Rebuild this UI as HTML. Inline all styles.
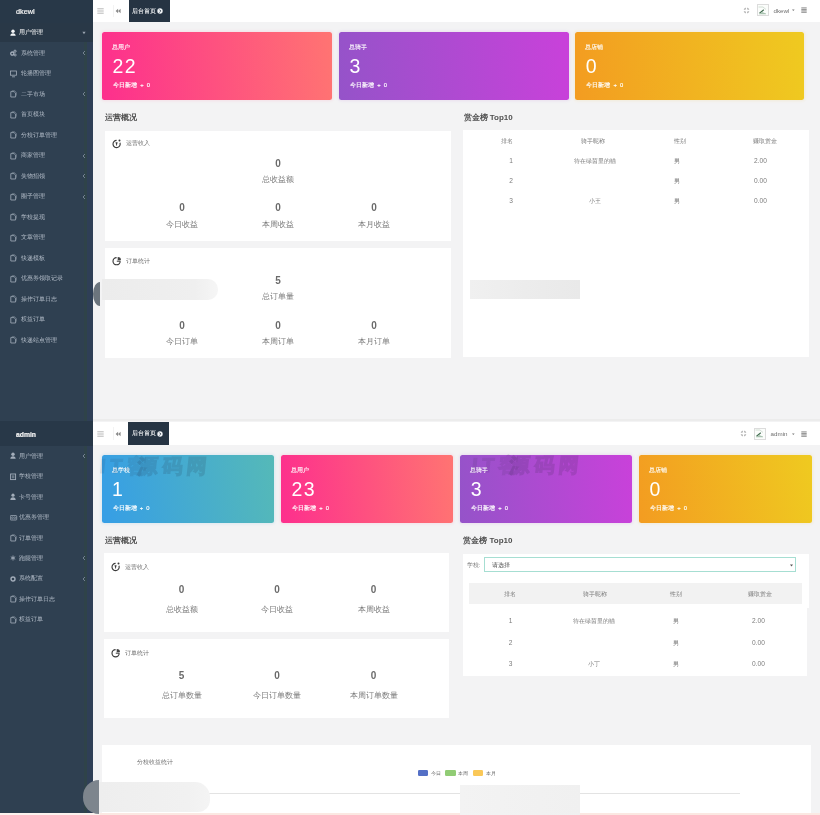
<!DOCTYPE html><html><head><meta charset="utf-8"><style>
html,body{margin:0;padding:0;width:820px;height:815px;overflow:hidden;background:#f3f3f4;font-family:"Liberation Sans",sans-serif;}
body{filter:blur(0.3px)}
.a{position:absolute;white-space:nowrap}
.sb{background:#2f4051}
.logo{background:#283848}
.act{background:#293847}
.logot{color:#f4f4f4;font-weight:bold;line-height:10px;-webkit-text-stroke:0.2px #f4f4f4}
.mt{color:#b3bcc8;font-size:6px;line-height:9px}
.mta{color:#fff}
.hd{background:#fff}
.tab{background:#263443}
.tabt{color:#eef0f2;font-size:6px;line-height:9px;-webkit-text-stroke:0.12px #eef0f2}
.ut{color:#6f6f6f;font-size:6.2px;line-height:9px}
.card{border-radius:2.5px}
.ct{color:#fff;font-size:5.8px;line-height:8px;-webkit-text-stroke:0.1px #fff}
.cn{color:#fff;font-size:19.5px;line-height:22px;font-weight:normal;letter-spacing:1.3px}
.cs{color:#fff;font-size:5.8px;line-height:8px;-webkit-text-stroke:0.15px #fff}
.pn{background:#fff}
.st{color:#505050;font-size:8px;font-weight:bold;line-height:10px}
.ph{color:#707070;font-size:5.8px;line-height:8px}
.sn{width:100px;text-align:center;color:#6b6b6b;font-size:10px;font-weight:bold;line-height:12px}
.sl{width:100px;text-align:center;color:#7a7a7a;font-size:7.8px;line-height:10px}
.tt{width:80px;text-align:center;color:#7c7c7c;font-size:6px;line-height:8px}
.wm{font-size:20px;line-height:26px;font-weight:bold;transform:skewX(-6deg);color:rgb(30,30,50);opacity:.13;letter-spacing:4.5px;-webkit-text-stroke:1.2px rgb(30,30,50)}
</style></head><body>
<div class="a sb" style="left:0;top:0px;width:93px;height:421px"></div>
<div class="a" style="left:84px;top:0px;width:3px;height:421px;background:#2f4349"></div>
<div class="a" style="left:87px;top:0px;width:6px;height:421px;background:#2f3f56"></div>
<div class="a logo" style="left:0;top:0px;width:93px;height:22.5px"></div>
<div class="a logot" style="left:16px;top:7.15px;font-size:7.3px;font-weight:normal">dkewl</div>
<div class="a act" style="left:0;top:23.3px;width:93px;height:18.8px"></div>
<svg class="a" style="left:9.8px;top:28.6px" width="8" height="8" viewBox="0 0 8 8"><circle cx="3" cy="2.2" r="1.7" fill="#f4f6f8"/><path d="M0.3 6.8 Q0.5 4.2 3 4.2 Q5.5 4.2 5.7 6.8 Z" fill="#f4f6f8"/></svg>
<div class="a mt mta" style="left:19.4px;top:28.1px">用户管理</div>
<svg class="a" style="left:82px;top:30.6px" width="4" height="4" viewBox="0 0 4 4"><path d="M0.4 0.8 H3.6 L2 3.2Z" fill="#9aa4b0"/></svg>
<svg class="a" style="left:9.8px;top:49.1px" width="8" height="8" viewBox="0 0 8 8"><circle cx="2.3" cy="4.6" r="1.6" fill="none" stroke="#a3adba" stroke-width="1.3"/><circle cx="5" cy="2.2" r="1.1" fill="none" stroke="#a3adba" stroke-width="1"/><circle cx="5.2" cy="6" r="1" fill="none" stroke="#a3adba" stroke-width="0.9"/></svg>
<div class="a mt" style="left:20.6px;top:48.6px">系统管理</div>
<svg class="a" style="left:82px;top:50.1px" width="4" height="6" viewBox="0 0 4 6"><path d="M3 1 L1 3 L3 5" fill="none" stroke="#8793a2" stroke-width="0.8"/></svg>
<svg class="a" style="left:9.8px;top:69.6px" width="8" height="8" viewBox="0 0 8 8"><rect x="0.5" y="1" width="6" height="4.2" fill="none" stroke="#a3adba" stroke-width="0.8"/><path d="M2 6.8 H5" stroke="#a3adba" stroke-width="0.8"/></svg>
<div class="a mt" style="left:20.6px;top:69.1px">轮播图管理</div>
<svg class="a" style="left:9.8px;top:90.1px" width="8" height="8" viewBox="0 0 8 8"><path d="M0.8 1.6 H4 L5.6 3.1 V7 H0.8 Z" fill="none" stroke="#a3adba" stroke-width="0.8"/><path d="M1.8 0.6 H4.4 L6.4 2.4 V5.6" fill="none" stroke="#a3adba" stroke-width="0.6" opacity="0.7"/></svg>
<div class="a mt" style="left:20.6px;top:89.6px">二手市场</div>
<svg class="a" style="left:82px;top:91.1px" width="4" height="6" viewBox="0 0 4 6"><path d="M3 1 L1 3 L3 5" fill="none" stroke="#8793a2" stroke-width="0.8"/></svg>
<svg class="a" style="left:9.8px;top:110.6px" width="8" height="8" viewBox="0 0 8 8"><path d="M0.8 1.6 H4 L5.6 3.1 V7 H0.8 Z" fill="none" stroke="#a3adba" stroke-width="0.8"/><path d="M1.8 0.6 H4.4 L6.4 2.4 V5.6" fill="none" stroke="#a3adba" stroke-width="0.6" opacity="0.7"/></svg>
<div class="a mt" style="left:20.6px;top:110.1px">首页模块</div>
<svg class="a" style="left:9.8px;top:131.1px" width="8" height="8" viewBox="0 0 8 8"><path d="M0.8 1.6 H4 L5.6 3.1 V7 H0.8 Z" fill="none" stroke="#a3adba" stroke-width="0.8"/><path d="M1.8 0.6 H4.4 L6.4 2.4 V5.6" fill="none" stroke="#a3adba" stroke-width="0.6" opacity="0.7"/></svg>
<div class="a mt" style="left:20.6px;top:130.6px">分校订单管理</div>
<svg class="a" style="left:9.8px;top:151.6px" width="8" height="8" viewBox="0 0 8 8"><path d="M0.8 1.6 H4 L5.6 3.1 V7 H0.8 Z" fill="none" stroke="#a3adba" stroke-width="0.8"/><path d="M1.8 0.6 H4.4 L6.4 2.4 V5.6" fill="none" stroke="#a3adba" stroke-width="0.6" opacity="0.7"/></svg>
<div class="a mt" style="left:20.6px;top:151.1px">商家管理</div>
<svg class="a" style="left:82px;top:152.6px" width="4" height="6" viewBox="0 0 4 6"><path d="M3 1 L1 3 L3 5" fill="none" stroke="#8793a2" stroke-width="0.8"/></svg>
<svg class="a" style="left:9.8px;top:172.1px" width="8" height="8" viewBox="0 0 8 8"><path d="M0.8 1.6 H4 L5.6 3.1 V7 H0.8 Z" fill="none" stroke="#a3adba" stroke-width="0.8"/><path d="M1.8 0.6 H4.4 L6.4 2.4 V5.6" fill="none" stroke="#a3adba" stroke-width="0.6" opacity="0.7"/></svg>
<div class="a mt" style="left:20.6px;top:171.6px">失物招领</div>
<svg class="a" style="left:82px;top:173.1px" width="4" height="6" viewBox="0 0 4 6"><path d="M3 1 L1 3 L3 5" fill="none" stroke="#8793a2" stroke-width="0.8"/></svg>
<svg class="a" style="left:9.8px;top:192.6px" width="8" height="8" viewBox="0 0 8 8"><path d="M0.8 1.6 H4 L5.6 3.1 V7 H0.8 Z" fill="none" stroke="#a3adba" stroke-width="0.8"/><path d="M1.8 0.6 H4.4 L6.4 2.4 V5.6" fill="none" stroke="#a3adba" stroke-width="0.6" opacity="0.7"/></svg>
<div class="a mt" style="left:20.6px;top:192.1px">圈子管理</div>
<svg class="a" style="left:82px;top:193.6px" width="4" height="6" viewBox="0 0 4 6"><path d="M3 1 L1 3 L3 5" fill="none" stroke="#8793a2" stroke-width="0.8"/></svg>
<svg class="a" style="left:9.8px;top:213.1px" width="8" height="8" viewBox="0 0 8 8"><path d="M0.8 1.6 H4 L5.6 3.1 V7 H0.8 Z" fill="none" stroke="#a3adba" stroke-width="0.8"/><path d="M1.8 0.6 H4.4 L6.4 2.4 V5.6" fill="none" stroke="#a3adba" stroke-width="0.6" opacity="0.7"/></svg>
<div class="a mt" style="left:20.6px;top:212.6px">学校提现</div>
<svg class="a" style="left:9.8px;top:233.6px" width="8" height="8" viewBox="0 0 8 8"><path d="M0.8 1.6 H4 L5.6 3.1 V7 H0.8 Z" fill="none" stroke="#a3adba" stroke-width="0.8"/><path d="M1.8 0.6 H4.4 L6.4 2.4 V5.6" fill="none" stroke="#a3adba" stroke-width="0.6" opacity="0.7"/></svg>
<div class="a mt" style="left:20.6px;top:233.1px">文章管理</div>
<svg class="a" style="left:9.8px;top:254.10000000000002px" width="8" height="8" viewBox="0 0 8 8"><path d="M0.8 1.6 H4 L5.6 3.1 V7 H0.8 Z" fill="none" stroke="#a3adba" stroke-width="0.8"/><path d="M1.8 0.6 H4.4 L6.4 2.4 V5.6" fill="none" stroke="#a3adba" stroke-width="0.6" opacity="0.7"/></svg>
<div class="a mt" style="left:20.6px;top:253.60000000000002px">快递模板</div>
<svg class="a" style="left:9.8px;top:274.6px" width="8" height="8" viewBox="0 0 8 8"><path d="M0.8 1.6 H4 L5.6 3.1 V7 H0.8 Z" fill="none" stroke="#a3adba" stroke-width="0.8"/><path d="M1.8 0.6 H4.4 L6.4 2.4 V5.6" fill="none" stroke="#a3adba" stroke-width="0.6" opacity="0.7"/></svg>
<div class="a mt" style="left:20.6px;top:274.1px">优惠券领取记录</div>
<svg class="a" style="left:9.8px;top:295.1px" width="8" height="8" viewBox="0 0 8 8"><path d="M0.8 1.6 H4 L5.6 3.1 V7 H0.8 Z" fill="none" stroke="#a3adba" stroke-width="0.8"/><path d="M1.8 0.6 H4.4 L6.4 2.4 V5.6" fill="none" stroke="#a3adba" stroke-width="0.6" opacity="0.7"/></svg>
<div class="a mt" style="left:20.6px;top:294.6px">操作订单日志</div>
<svg class="a" style="left:9.8px;top:315.6px" width="8" height="8" viewBox="0 0 8 8"><path d="M0.8 1.6 H4 L5.6 3.1 V7 H0.8 Z" fill="none" stroke="#a3adba" stroke-width="0.8"/><path d="M1.8 0.6 H4.4 L6.4 2.4 V5.6" fill="none" stroke="#a3adba" stroke-width="0.6" opacity="0.7"/></svg>
<div class="a mt" style="left:20.6px;top:315.1px">权益订单</div>
<svg class="a" style="left:9.8px;top:336.1px" width="8" height="8" viewBox="0 0 8 8"><path d="M0.8 1.6 H4 L5.6 3.1 V7 H0.8 Z" fill="none" stroke="#a3adba" stroke-width="0.8"/><path d="M1.8 0.6 H4.4 L6.4 2.4 V5.6" fill="none" stroke="#a3adba" stroke-width="0.6" opacity="0.7"/></svg>
<div class="a mt" style="left:20.6px;top:335.6px">快递站点管理</div>
<div class="a hd" style="left:93.2px;top:0px;width:726.8px;height:22.3px"></div>
<svg class="a" style="left:97px;top:8.15px" width="7" height="6" viewBox="0 0 7 6"><path d="M0.3 0.8 H6.7 M0.3 3 H6.7 M0.3 5.2 H6.7" stroke="#a0a0a0" stroke-width="0.75"/></svg>
<svg class="a" style="left:115.3px;top:8.350000000000001px" width="6" height="6" viewBox="0 0 6 6"><path d="M5.6 0.8 L3.1 3 L5.6 5.2 Z M3.1 0.8 L0.6 3 L3.1 5.2 Z" fill="#8a8a8a"/></svg>
<div class="a" style="left:112.8px;top:5px;width:0.6px;height:12.3px;background:#f3f3f3"></div>
<div class="a tab" style="left:129px;top:0px;width:40.5px;height:22.3px"></div>
<div class="a tabt" style="left:132.2px;top:6.8500000000000005px">后台首页</div>
<svg class="a" style="left:157.2px;top:8.350000000000001px" width="6" height="6" viewBox="0 0 6 6"><circle cx="3" cy="3" r="2.7" fill="#eef1f4"/><path d="M2.4 1.6 L3.8 3 L2.4 4.4" fill="none" stroke="#2a3947" stroke-width="0.9"/></svg>
<svg class="a" style="left:743.0px;top:6.75px" width="7" height="7" viewBox="0 0 7 7"><path d="M2.6 2.6 L2.6 0.6 L0.6 2.6Z M4.4 2.6 L4.4 0.6 L6.4 2.6Z M2.6 4.4 L2.6 6.4 L0.6 4.4Z M4.4 4.4 L4.4 6.4 L6.4 4.4Z" fill="#8a8a8a"/></svg>
<div class="a" style="left:757.2px;top:4.35px;width:11.8px;height:11.8px;border:0.7px solid #dcdcdc;box-sizing:border-box;background:#fbfdfb"></div>
<svg class="a" style="left:758.3px;top:5.65px" width="9" height="9" viewBox="0 0 9 9"><path d="M0.5 1 H5 L8 3.5" fill="none" stroke="#c9d6cc" stroke-width="0.8"/><path d="M1.5 7.2 L5.8 3.8" stroke="#3f6a4d" stroke-width="1.1"/><path d="M1 8 L4 6 L8 7.5 V8.3 H1Z" fill="#a9c3b0"/></svg>
<div class="a ut" style="left:773.5px;top:5.75px">dkewl</div>
<svg class="a" style="left:792.3px;top:9.05px" width="3" height="3" viewBox="0 0 3 3"><path d="M0 0.4 H2.6 L1.3 2Z" fill="#777"/></svg>
<svg class="a" style="left:801px;top:7.45px" width="6" height="6" viewBox="0 0 6 6"><path d="M0.3 0.9 H5.7 M0.3 2.4 H5.7 M0.3 3.9 H5.7 M0.3 5.3 H5.7" stroke="#8c8c8c" stroke-width="1"/></svg>
<div class="a card" style="left:102px;top:32px;width:230px;height:68px;background:linear-gradient(85deg,#fd2f8d,#ff7472);box-shadow:0 0 3px 1px rgba(255,80,140,0.12)"></div>
<div class="a ct" style="left:112px;top:43.2px">总用户</div>
<div class="a cn" style="left:112.5px;top:54.5px">22</div>
<div class="a cs" style="left:113px;top:81px">今日新增 <span style="margin:0 1.5px">+</span> 0</div>
<div class="a card" style="left:339px;top:32px;width:229.5px;height:68px;background:linear-gradient(85deg,#9553c9,#c941da);box-shadow:0 0 3px 1px rgba(170,80,210,0.12)"></div>
<div class="a ct" style="left:349px;top:43.2px">总骑手</div>
<div class="a cn" style="left:349.5px;top:54.5px">3</div>
<div class="a cs" style="left:350px;top:81px">今日新增 <span style="margin:0 1.5px">+</span> 0</div>
<div class="a card" style="left:575.3px;top:32px;width:229px;height:68px;background:linear-gradient(85deg,#f39c21,#efca20);box-shadow:0 0 3px 1px rgba(240,180,30,0.12)"></div>
<div class="a ct" style="left:585.3px;top:43.2px">总店铺</div>
<div class="a cn" style="left:585.8px;top:54.5px">0</div>
<div class="a cs" style="left:586.3px;top:81px">今日新增 <span style="margin:0 1.5px">+</span> 0</div>
<div class="a st" style="left:105px;top:112.5px">运营概况</div>
<div class="a pn" style="left:105px;top:130.5px;width:346.3px;height:110.7px"></div>
<svg class="a" style="left:111.5px;top:138.5px" width="10" height="10" viewBox="0 0 10 10"><path d="M7.98 3.77 A3.6 3.6 0 1 1 4.6 1.4" fill="none" stroke="#3a3a3a" stroke-width="1.15"/><circle cx="7.5" cy="1.6" r="1" fill="#3a3a3a"/><path d="M3.5 3.2 L5.6 3.2 L4.6 7.3 Z" fill="#3a3a3a"/></svg>
<div class="a ph" style="left:126px;top:139px">运营收入</div>
<div class="a sn" style="left:228px;top:158px">0</div>
<div class="a sl" style="left:228px;top:175px">总收益额</div>
<div class="a sn" style="left:132px;top:202px">0</div>
<div class="a sl" style="left:132px;top:219.5px">今日收益</div>
<div class="a sn" style="left:228px;top:202px">0</div>
<div class="a sl" style="left:228px;top:219.5px">本周收益</div>
<div class="a sn" style="left:324px;top:202px">0</div>
<div class="a sl" style="left:324px;top:219.5px">本月收益</div>
<div class="a pn" style="left:105px;top:247.7px;width:346.3px;height:110.6px"></div>
<svg class="a" style="left:111.5px;top:256px" width="10" height="10" viewBox="0 0 10 10"><path d="M4.6 1.6 A3.6 3.6 0 1 0 8.2 5.2" fill="none" stroke="#3a3a3a" stroke-width="1.15"/><path d="M4.8 5.2 H8.2" stroke="#3a3a3a" stroke-width="1"/><path d="M5.7 0.9 V4.2 H9 A3.3 3.3 0 0 0 5.7 0.9Z" fill="#444"/></svg>
<div class="a ph" style="left:126px;top:257px">订单统计</div>
<div class="a sn" style="left:228px;top:275px">5</div>
<div class="a sl" style="left:228px;top:292px">总订单量</div>
<div class="a sn" style="left:132px;top:319.5px">0</div>
<div class="a sl" style="left:132px;top:336.5px">今日订单</div>
<div class="a sn" style="left:228px;top:319.5px">0</div>
<div class="a sl" style="left:228px;top:336.5px">本周订单</div>
<div class="a sn" style="left:324px;top:319.5px">0</div>
<div class="a sl" style="left:324px;top:336.5px">本月订单</div>
<div class="a st" style="left:463.5px;top:112.5px">赏金榜 Top10</div>
<div class="a pn" style="left:463.2px;top:130.4px;width:346.1px;height:226.2px"></div>
<div class="a tt" style="left:467px;top:137px">排名</div>
<div class="a tt" style="left:553px;top:137px">骑手昵称</div>
<div class="a tt" style="left:640px;top:137px">性别</div>
<div class="a tt" style="left:725px;top:137px">赚取赏金</div>
<div class="a tt" style="left:471px;top:157px;font-size:6.6px">1</div>
<div class="a tt" style="left:555px;top:157px">待在绿茵里的猫</div>
<div class="a tt" style="left:636.5px;top:157px">男</div>
<div class="a tt" style="left:720.5px;top:157px;font-size:6.6px">2.00</div>
<div class="a tt" style="left:471px;top:177px;font-size:6.6px">2</div>
<div class="a tt" style="left:555px;top:177px"></div>
<div class="a tt" style="left:636.5px;top:177px">男</div>
<div class="a tt" style="left:720.5px;top:177px;font-size:6.6px">0.00</div>
<div class="a tt" style="left:471px;top:197px;font-size:6.6px">3</div>
<div class="a tt" style="left:555px;top:197px">小王</div>
<div class="a tt" style="left:636.5px;top:197px">男</div>
<div class="a tt" style="left:720.5px;top:197px;font-size:6.6px">0.00</div>
<div class="a" style="left:101.7px;top:279.4px;width:116px;height:20.6px;border-radius:0 10px 10px 0;background:linear-gradient(90deg,#ececec,#efefef 80%,#f6f6f6)"></div>
<div class="a" style="left:93px;top:282px;width:7px;height:24px;border-radius:7px 0 0 7px / 12px 0 0 12px;background:#6b747d"></div>
<div class="a" style="left:469.6px;top:279.8px;width:110.5px;height:19.5px;background:linear-gradient(90deg,#f0f0f0,#ececec 50%,#e9e9e9)"></div>
<div class="a" style="left:93px;top:418.5px;width:727px;height:2.5px;background:#ececec"></div>
<div class="a sb" style="left:0;top:421px;width:93px;height:391.6px"></div>
<div class="a" style="left:84px;top:421px;width:3px;height:391.6px;background:#2f4349"></div>
<div class="a" style="left:87px;top:421px;width:6px;height:391.6px;background:#2f3f56"></div>
<div class="a logo" style="left:0;top:421px;width:93px;height:24.5px"></div>
<div class="a logot" style="left:16px;top:430.05px;font-size:6.8px;font-weight:bold">admin</div>
<svg class="a" style="left:9.8px;top:452.2px" width="8" height="8" viewBox="0 0 8 8"><circle cx="3" cy="2.2" r="1.7" fill="#a3adba"/><path d="M0.3 6.8 Q0.5 4.2 3 4.2 Q5.5 4.2 5.7 6.8 Z" fill="#a3adba"/></svg>
<div class="a mt" style="left:19.3px;top:451.7px">用户管理</div>
<svg class="a" style="left:82px;top:453.2px" width="4" height="6" viewBox="0 0 4 6"><path d="M3 1 L1 3 L3 5" fill="none" stroke="#8793a2" stroke-width="0.8"/></svg>
<svg class="a" style="left:9.8px;top:472.65px" width="8" height="8" viewBox="0 0 8 8"><rect x="0.6" y="1" width="5" height="5.6" fill="none" stroke="#a3adba" stroke-width="0.9"/><rect x="1.8" y="2.3" width="2.6" height="3" fill="#a3adba" opacity="0.5"/></svg>
<div class="a mt" style="left:19.3px;top:472.15px">学校管理</div>
<svg class="a" style="left:9.8px;top:493.09999999999997px" width="8" height="8" viewBox="0 0 8 8"><circle cx="3" cy="2.2" r="1.6" fill="#a3adba"/><path d="M0.3 7 Q0.5 4.2 3 4.2 Q5.5 4.2 5.7 7 Z" fill="#a3adba"/></svg>
<div class="a mt" style="left:19.3px;top:492.59999999999997px">卡号管理</div>
<svg class="a" style="left:9.8px;top:513.55px" width="8" height="8" viewBox="0 0 8 8"><rect x="0.3" y="1.6" width="6.4" height="4.4" rx="0.6" fill="none" stroke="#a3adba" stroke-width="0.8"/><circle cx="2.3" cy="3.8" r="0.9" fill="none" stroke="#a3adba" stroke-width="0.6"/><circle cx="4.7" cy="3.8" r="0.9" fill="none" stroke="#a3adba" stroke-width="0.6"/></svg>
<div class="a mt" style="left:19.3px;top:513.05px">优惠券管理</div>
<svg class="a" style="left:9.8px;top:534.0px" width="8" height="8" viewBox="0 0 8 8"><path d="M0.8 1.6 H4 L5.6 3.1 V7 H0.8 Z" fill="none" stroke="#a3adba" stroke-width="0.8"/><path d="M1.8 0.6 H4.4 L6.4 2.4 V5.6" fill="none" stroke="#a3adba" stroke-width="0.6" opacity="0.7"/></svg>
<div class="a mt" style="left:19.3px;top:533.5px">订单管理</div>
<svg class="a" style="left:9.8px;top:554.45px" width="8" height="8" viewBox="0 0 8 8"><path d="M3 1.5 V6.5 M0.8 2.8 L5.2 5.2 M0.8 5.2 L5.2 2.8" stroke="#a3adba" stroke-width="0.9"/></svg>
<div class="a mt" style="left:19.3px;top:553.95px">跑腿管理</div>
<svg class="a" style="left:82px;top:555.45px" width="4" height="6" viewBox="0 0 4 6"><path d="M3 1 L1 3 L3 5" fill="none" stroke="#8793a2" stroke-width="0.8"/></svg>
<svg class="a" style="left:9.8px;top:574.9px" width="8" height="8" viewBox="0 0 8 8"><circle cx="3" cy="4" r="2" fill="none" stroke="#a3adba" stroke-width="1.4"/></svg>
<div class="a mt" style="left:19.3px;top:574.4px">系统配置</div>
<svg class="a" style="left:82px;top:575.9px" width="4" height="6" viewBox="0 0 4 6"><path d="M3 1 L1 3 L3 5" fill="none" stroke="#8793a2" stroke-width="0.8"/></svg>
<svg class="a" style="left:9.8px;top:595.35px" width="8" height="8" viewBox="0 0 8 8"><path d="M0.8 1.6 H4 L5.6 3.1 V7 H0.8 Z" fill="none" stroke="#a3adba" stroke-width="0.8"/><path d="M1.8 0.6 H4.4 L6.4 2.4 V5.6" fill="none" stroke="#a3adba" stroke-width="0.6" opacity="0.7"/></svg>
<div class="a mt" style="left:19.3px;top:594.85px">操作订单日志</div>
<svg class="a" style="left:9.8px;top:615.8px" width="8" height="8" viewBox="0 0 8 8"><path d="M0.8 1.6 H4 L5.6 3.1 V7 H0.8 Z" fill="none" stroke="#a3adba" stroke-width="0.8"/><path d="M1.8 0.6 H4.4 L6.4 2.4 V5.6" fill="none" stroke="#a3adba" stroke-width="0.6" opacity="0.7"/></svg>
<div class="a mt" style="left:19.3px;top:615.3px">权益订单</div>
<div class="a hd" style="left:92.7px;top:421.9px;width:727.3px;height:23.6px"></div>
<svg class="a" style="left:97px;top:430.7px" width="7" height="6" viewBox="0 0 7 6"><path d="M0.3 0.8 H6.7 M0.3 3 H6.7 M0.3 5.2 H6.7" stroke="#a0a0a0" stroke-width="0.75"/></svg>
<svg class="a" style="left:115.3px;top:430.9px" width="6" height="6" viewBox="0 0 6 6"><path d="M5.6 0.8 L3.1 3 L5.6 5.2 Z M3.1 0.8 L0.6 3 L3.1 5.2 Z" fill="#8a8a8a"/></svg>
<div class="a" style="left:112.8px;top:426.9px;width:0.6px;height:13.600000000000001px;background:#f3f3f3"></div>
<div class="a tab" style="left:128.3px;top:421.9px;width:40.5px;height:23.6px"></div>
<div class="a tabt" style="left:131.5px;top:429.4px">后台首页</div>
<svg class="a" style="left:156.5px;top:430.9px" width="6" height="6" viewBox="0 0 6 6"><circle cx="3" cy="3" r="2.7" fill="#eef1f4"/><path d="M2.4 1.6 L3.8 3 L2.4 4.4" fill="none" stroke="#2a3947" stroke-width="0.9"/></svg>
<svg class="a" style="left:740.1px;top:430.2px" width="7" height="7" viewBox="0 0 7 7"><path d="M2.6 2.6 L2.6 0.6 L0.6 2.6Z M4.4 2.6 L4.4 0.6 L6.4 2.6Z M2.6 4.4 L2.6 6.4 L0.6 4.4Z M4.4 4.4 L4.4 6.4 L6.4 4.4Z" fill="#8a8a8a"/></svg>
<div class="a" style="left:754.3000000000001px;top:427.8px;width:11.8px;height:11.8px;border:0.7px solid #dcdcdc;box-sizing:border-box;background:#fbfdfb"></div>
<svg class="a" style="left:755.4px;top:429.09999999999997px" width="9" height="9" viewBox="0 0 9 9"><path d="M0.5 1 H5 L8 3.5" fill="none" stroke="#c9d6cc" stroke-width="0.8"/><path d="M1.5 7.2 L5.8 3.8" stroke="#3f6a4d" stroke-width="1.1"/><path d="M1 8 L4 6 L8 7.5 V8.3 H1Z" fill="#a9c3b0"/></svg>
<div class="a ut" style="left:770.6px;top:429.2px">admin</div>
<svg class="a" style="left:792.3px;top:432.5px" width="3" height="3" viewBox="0 0 3 3"><path d="M0 0.4 H2.6 L1.3 2Z" fill="#777"/></svg>
<svg class="a" style="left:801px;top:430.9px" width="6" height="6" viewBox="0 0 6 6"><path d="M0.3 0.9 H5.7 M0.3 2.4 H5.7 M0.3 3.9 H5.7 M0.3 5.3 H5.7" stroke="#8c8c8c" stroke-width="1"/></svg>
<div class="a card" style="left:101.6px;top:455px;width:172.7px;height:68.4px;background:linear-gradient(80deg,#369ee6,#55b9b8);box-shadow:0 0 3px 1px rgba(60,160,220,0.12)"></div>
<div class="a ct" style="left:111.6px;top:466.2px">总学校</div>
<div class="a cn" style="left:112.1px;top:477.5px">1</div>
<div class="a cs" style="left:112.6px;top:504px">今日新增 <span style="margin:0 1.5px">+</span> 0</div>
<div class="a card" style="left:281px;top:455px;width:172.4px;height:68.4px;background:linear-gradient(85deg,#fd2f8d,#ff7472);box-shadow:0 0 3px 1px rgba(255,80,140,0.12)"></div>
<div class="a ct" style="left:291px;top:466.2px">总用户</div>
<div class="a cn" style="left:291.5px;top:477.5px">23</div>
<div class="a cs" style="left:292px;top:504px">今日新增 <span style="margin:0 1.5px">+</span> 0</div>
<div class="a card" style="left:460.2px;top:455px;width:172px;height:68.4px;background:linear-gradient(85deg,#9553c9,#c941da);box-shadow:0 0 3px 1px rgba(170,80,210,0.12)"></div>
<div class="a ct" style="left:470.2px;top:466.2px">总骑手</div>
<div class="a cn" style="left:470.7px;top:477.5px">3</div>
<div class="a cs" style="left:471.2px;top:504px">今日新增 <span style="margin:0 1.5px">+</span> 0</div>
<div class="a card" style="left:639px;top:455px;width:173px;height:68.4px;background:linear-gradient(80deg,#f39c21,#efca20);box-shadow:0 0 3px 1px rgba(240,180,30,0.12)"></div>
<div class="a ct" style="left:649px;top:466.2px">总店铺</div>
<div class="a cn" style="left:649.5px;top:477.5px">0</div>
<div class="a cs" style="left:650px;top:504px">今日新增 <span style="margin:0 1.5px">+</span> 0</div>
<div class="a wm" style="left:100px;top:452.5px;opacity:.09">IT客</div>
<div class="a wm" style="left:137.5px;top:452.5px">源码网</div>
<div class="a wm" style="left:472px;top:451.5px;opacity:.09">IT客</div>
<div class="a wm" style="left:509.5px;top:451.5px">源码网</div>
<div class="a st" style="left:104.8px;top:536px">运营概况</div>
<div class="a pn" style="left:103.8px;top:553.3px;width:345.6px;height:78.7px"></div>
<svg class="a" style="left:110.5px;top:562px" width="10" height="10" viewBox="0 0 10 10"><path d="M7.98 3.77 A3.6 3.6 0 1 1 4.6 1.4" fill="none" stroke="#3a3a3a" stroke-width="1.15"/><circle cx="7.5" cy="1.6" r="1" fill="#3a3a3a"/><path d="M3.5 3.2 L5.6 3.2 L4.6 7.3 Z" fill="#3a3a3a"/></svg>
<div class="a ph" style="left:124.7px;top:563px">运营收入</div>
<div class="a sn" style="left:131.5px;top:583.5px">0</div>
<div class="a sl" style="left:131.5px;top:605px">总收益额</div>
<div class="a sn" style="left:227px;top:583.5px">0</div>
<div class="a sl" style="left:227px;top:605px">今日收益</div>
<div class="a sn" style="left:323.5px;top:583.5px">0</div>
<div class="a sl" style="left:323.5px;top:605px">本周收益</div>
<div class="a pn" style="left:103.8px;top:639.3px;width:345.6px;height:79.2px"></div>
<svg class="a" style="left:110.5px;top:648px" width="10" height="10" viewBox="0 0 10 10"><path d="M4.6 1.6 A3.6 3.6 0 1 0 8.2 5.2" fill="none" stroke="#3a3a3a" stroke-width="1.15"/><path d="M4.8 5.2 H8.2" stroke="#3a3a3a" stroke-width="1"/><path d="M5.7 0.9 V4.2 H9 A3.3 3.3 0 0 0 5.7 0.9Z" fill="#444"/></svg>
<div class="a ph" style="left:124.7px;top:649px">订单统计</div>
<div class="a sn" style="left:131.5px;top:669.5px">5</div>
<div class="a sl" style="left:131.5px;top:691px">总订单数量</div>
<div class="a sn" style="left:227px;top:669.5px">0</div>
<div class="a sl" style="left:227px;top:691px">今日订单数量</div>
<div class="a sn" style="left:323.5px;top:669.5px">0</div>
<div class="a sl" style="left:323.5px;top:691px">本周订单数量</div>
<div class="a st" style="left:463.3px;top:536px">赏金榜 Top10</div>
<div class="a pn" style="left:463.25px;top:554px;width:345.75px;height:54px"></div>
<div class="a pn" style="left:463.25px;top:600px;width:343.4px;height:75.5px"></div>
<div class="a tt" style="left:466.5px;top:561px;width:auto">学校:</div>
<div class="a" style="left:484px;top:557.2px;width:311.6px;height:15.2px;border:0.8px solid #a6ded2;box-sizing:border-box;background:#fff"></div>
<div class="a tt" style="left:492.3px;top:561px;width:auto;color:#555">请选择</div>
<svg class="a" style="left:790px;top:563.5px" width="3" height="3" viewBox="0 0 3 3"><path d="M0 0.5 H3 L1.5 2.5Z" fill="#555"/></svg>
<div class="a" style="left:469.1px;top:583px;width:333.3px;height:20.5px;background:#f2f2f2"></div>
<div class="a tt" style="left:470px;top:589.5px">排名</div>
<div class="a tt" style="left:554.5px;top:589.5px">骑手昵称</div>
<div class="a tt" style="left:636px;top:589.5px">性别</div>
<div class="a tt" style="left:720px;top:589.5px">赚取赏金</div>
<div class="a tt" style="left:470.5px;top:617px;font-size:6.6px">1</div>
<div class="a tt" style="left:554px;top:617px">待在绿茵里的猫</div>
<div class="a tt" style="left:636px;top:617px">男</div>
<div class="a tt" style="left:718.5px;top:617px;font-size:6.6px">2.00</div>
<div class="a tt" style="left:470.5px;top:638.5px;font-size:6.6px">2</div>
<div class="a tt" style="left:554px;top:638.5px"></div>
<div class="a tt" style="left:636px;top:638.5px">男</div>
<div class="a tt" style="left:718.5px;top:638.5px;font-size:6.6px">0.00</div>
<div class="a tt" style="left:470.5px;top:660px;font-size:6.6px">3</div>
<div class="a tt" style="left:554px;top:660px">小丁</div>
<div class="a tt" style="left:636px;top:660px">男</div>
<div class="a tt" style="left:718.5px;top:660px;font-size:6.6px">0.00</div>
<div class="a pn" style="left:101.5px;top:744.7px;width:709.9px;height:71px"></div>
<div class="a ph" style="left:137.3px;top:757.5px">分校收益统计</div>
<div class="a" style="left:417.6px;top:770px;width:10.5px;height:5.8px;border-radius:1.2px;background:#5470c6"></div>
<div class="a" style="left:430.6px;top:768.8px;font-size:5px;line-height:8px;color:#666">今日</div>
<div class="a" style="left:445px;top:770px;width:10.5px;height:5.8px;border-radius:1.2px;background:#91cc75"></div>
<div class="a" style="left:458px;top:768.8px;font-size:5px;line-height:8px;color:#666">本周</div>
<div class="a" style="left:472.5px;top:770px;width:10.5px;height:5.8px;border-radius:1.2px;background:#fac858"></div>
<div class="a" style="left:485.5px;top:768.8px;font-size:5px;line-height:8px;color:#666">本月</div>
<div class="a" style="left:195px;top:793px;width:545px;height:0.8px;background:#e3e3e3"></div>
<div class="a" style="left:100px;top:812.6px;width:720px;height:2.4px;background:#fbe8e2"></div>
<div class="a" style="left:0;top:812.6px;width:100px;height:2.4px;background:#fdf2ee"></div>
<div class="a" style="left:99.4px;top:781.7px;width:110.2px;height:30.5px;border-radius:0 15px 12px 0;background:linear-gradient(90deg,#eeeeee,#f1f1f1 80%,#f4f4f4)"></div>
<div class="a" style="left:82.8px;top:779.8px;width:16.6px;height:34.2px;border-radius:16.6px 0 0 16.6px / 17px 0 0 17px;background:#7d858d"></div>
<div class="a" style="left:459.8px;top:784.9px;width:120.7px;height:30.1px;background:linear-gradient(90deg,#f3f3f3,#f0f0f0)"></div>
</body></html>
